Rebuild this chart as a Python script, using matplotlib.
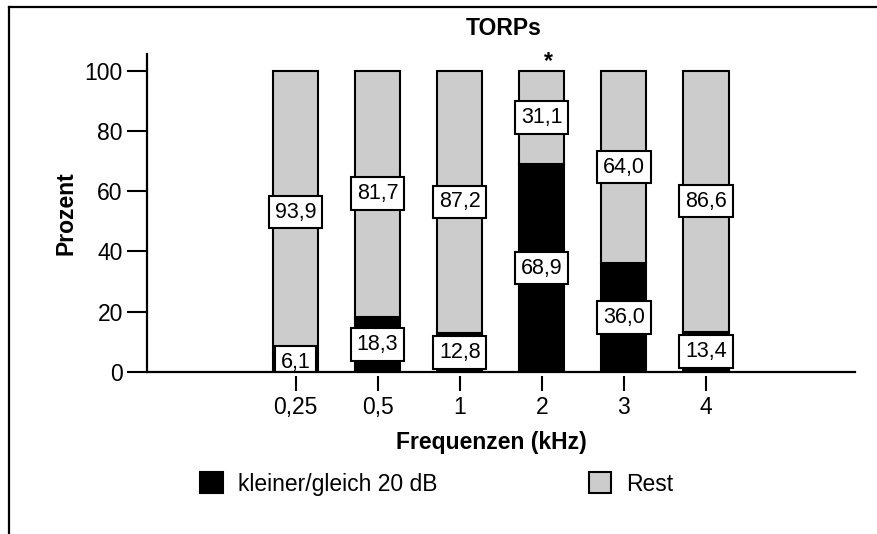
import matplotlib
matplotlib.use("Agg")
from matplotlib import pyplot as plt
from matplotlib.patches import Patch
from matplotlib.lines import Line2D
import numpy as np

plt.rcParams['font.family'] = ['Liberation Sans', 'DejaVu Sans']

# TORPs - Anteil pro Frequenz (%)
frequenzen = ["0,25", "0,5", "1", "2", "3", "4"]
kleiner_20db = [6.1, 18.3, 12.8, 68.9, 36.0, 13.4]
rest = [93.9, 81.7, 87.2, 31.1, 64.0, 86.6]
signifikant = ["2"]

grau = "#cccccc"
fs = 16.5

fig = plt.figure(figsize=(8.77, 5.34), dpi=100)
ax = fig.add_axes([147 / 877, 1 - 372 / 534, 708 / 877, 318 / 534])

x = np.arange(len(frequenzen))
breite = 0.55
ax.bar(x, kleiner_20db, breite, color="black", edgecolor="black", linewidth=1.5, zorder=2)
ax.bar(x, rest, breite, bottom=kleiner_20db, color=grau, edgecolor="black", linewidth=1.5, zorder=2)

# Werte in weissen Kaestchen, jeweils mittig im Segment
box = dict(boxstyle="square,pad=0.27", facecolor="white", edgecolor="black", linewidth=1.5)
for i in range(len(x)):
    for unten, wert in ((0, kleiner_20db[i]), (kleiner_20db[i], rest[i])):
        ax.text(x[i], unten + wert / 2, f"{wert:.1f}".replace(".", ","), ha="center", va="center",
                fontsize=15.5, bbox=box, zorder=4, clip_on=True)

for f in signifikant:
    i = frequenzen.index(f)
    ax.annotate("*", xy=(x[i], kleiner_20db[i] + rest[i]), xytext=(4.5, 2), textcoords="offset points",
                ha="center", va="baseline", fontsize=fs, fontweight="bold")

ax.set_xlim(-1.809, 6.815)
ax.set_ylim(0, 105.5)
ax.set_yticks([0, 20, 40, 60, 80, 100])
ax.set_xticks(x, frequenzen)
for s in ("top", "right"):
    ax.spines[s].set_visible(False)
for s in ("left", "bottom"):
    ax.spines[s].set_linewidth(1.6)
    ax.spines[s].set_zorder(5)
ax.tick_params(axis="y", length=14.4, width=1.5, pad=3, labelsize=fs)
ax.tick_params(axis="x", length=0, pad=17, labelsize=fs)
# x-Ticks mit kleinem Abstand unter der Achse
ax.vlines(x, -0.0126, -0.06, transform=ax.get_xaxis_transform(), color="black", lw=1.5, clip_on=False)

ax.set_xlabel("Frequenzen (kHz)", fontsize=fs, fontweight="bold")
ax.xaxis.set_label_coords(0.487, -0.185)
ax.set_ylabel("Prozent", fontsize=fs, fontweight="bold")
ax.yaxis.set_label_coords(-0.098, 0.5)

fig.text(504 / 877, 1 - 35 / 534, "TORPs", ha="center", va="baseline", fontsize=fs, fontweight="bold")

handles = [Patch(facecolor="black", edgecolor="black", linewidth=1.5, label="kleiner/gleich 20 dB"),
           Patch(facecolor=grau, edgecolor="black", linewidth=1.5, label="Rest")]
fig.legend(handles=handles, ncol=2, frameon=False, loc="center left",
           bbox_to_anchor=(200 / 877, 1 - 484 / 534), handlelength=1.0, handleheight=1.0,
           handletextpad=0.65, columnspacing=6.6, borderpad=0, borderaxespad=0, fontsize=fs)

# Rahmen oben und links
fig.add_artist(Line2D([8.5 / 877, 1], [1 - 6.5 / 534, 1 - 6.5 / 534], color="black", lw=1.6))
fig.add_artist(Line2D([8.5 / 877, 8.5 / 877], [0, 1 - 6.5 / 534], color="black", lw=1.6))

plt.savefig("out.png", dpi=100)
